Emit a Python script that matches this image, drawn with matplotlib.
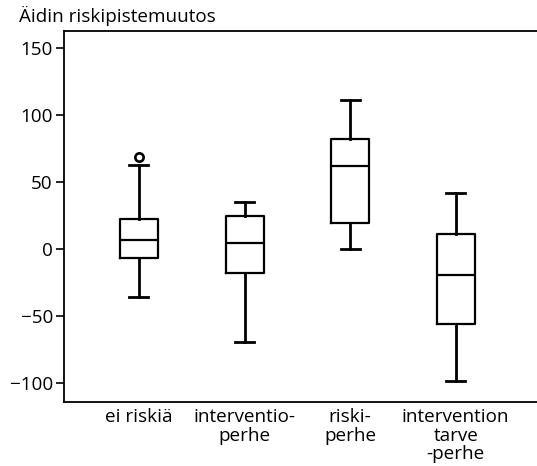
import matplotlib
matplotlib.use("Agg")
import matplotlib.pyplot as plt

plt.rcParams["font.family"] = ["Open Sans", "DejaVu Sans"]

# values
labels  = ["ei riskiä", "interventio-\nperhe", "riski-\nperhe", "intervention\ntarve\n-perhe"]
whislo  = [-36, -69.5, 0, -98]
q1      = [-6.5, -17.5, 19.5, -56]
med     = [6.5, 4.5, 62, -19]
q3      = [22.5, 24.5, 82.5, 11.5]
whishi  = [63, 35, 111, 42]
fliers  = [[69], [], [], []]

stats = []
for i in range(len(labels)):
    stats.append(dict(label=labels[i], whislo=whislo[i], q1=q1[i], med=med[i],
                      q3=q3[i], whishi=whishi[i], fliers=fliers[i]))

fig = plt.figure(figsize=(5.37, 4.66), dpi=100)
ax = fig.add_axes([64 / 537, 64 / 466, 1 - 64 / 537, 371 / 466])

lw = 1.6
ax.bxp(stats, positions=[1, 2, 3, 4], widths=0.36,
       boxprops=dict(color="black", linewidth=lw),
       medianprops=dict(color="black", linewidth=lw),
       whiskerprops=dict(color="black", linewidth=lw + 0.4),
       capprops=dict(color="black", linewidth=lw + 0.4),
       flierprops=dict(marker="o", markersize=6, markerfacecolor="white",
                       markeredgecolor="black", markeredgewidth=lw + 0.3))

fs = 13.6
ax.set_xlim(0.29, 4.77)
ax.set_ylim(-114, 162.7)
ax.set_yticks([-100, -50, 0, 50, 100, 150])
ax.set_yticklabels(["\u2212100", "\u221250", "0", "50", "100", "150"])
ax.tick_params(axis="y", length=6, width=1.2, labelsize=fs, pad=2)
ax.tick_params(axis="x", length=0, labelsize=fs, pad=4.5)
for t in ax.get_xticklabels():
    t.set_linespacing(1.03)
    t.set_multialignment("center")
ax.spines["right"].set_visible(False)
for s in ["left", "bottom", "top"]:
    ax.spines[s].set_linewidth(1.3)

fig.text(19 / 537, 1 - 22 / 466, "Äidin riskipistemuutos", fontsize=fs,
         ha="left", va="baseline")

fig.savefig("out.png", dpi=100)
